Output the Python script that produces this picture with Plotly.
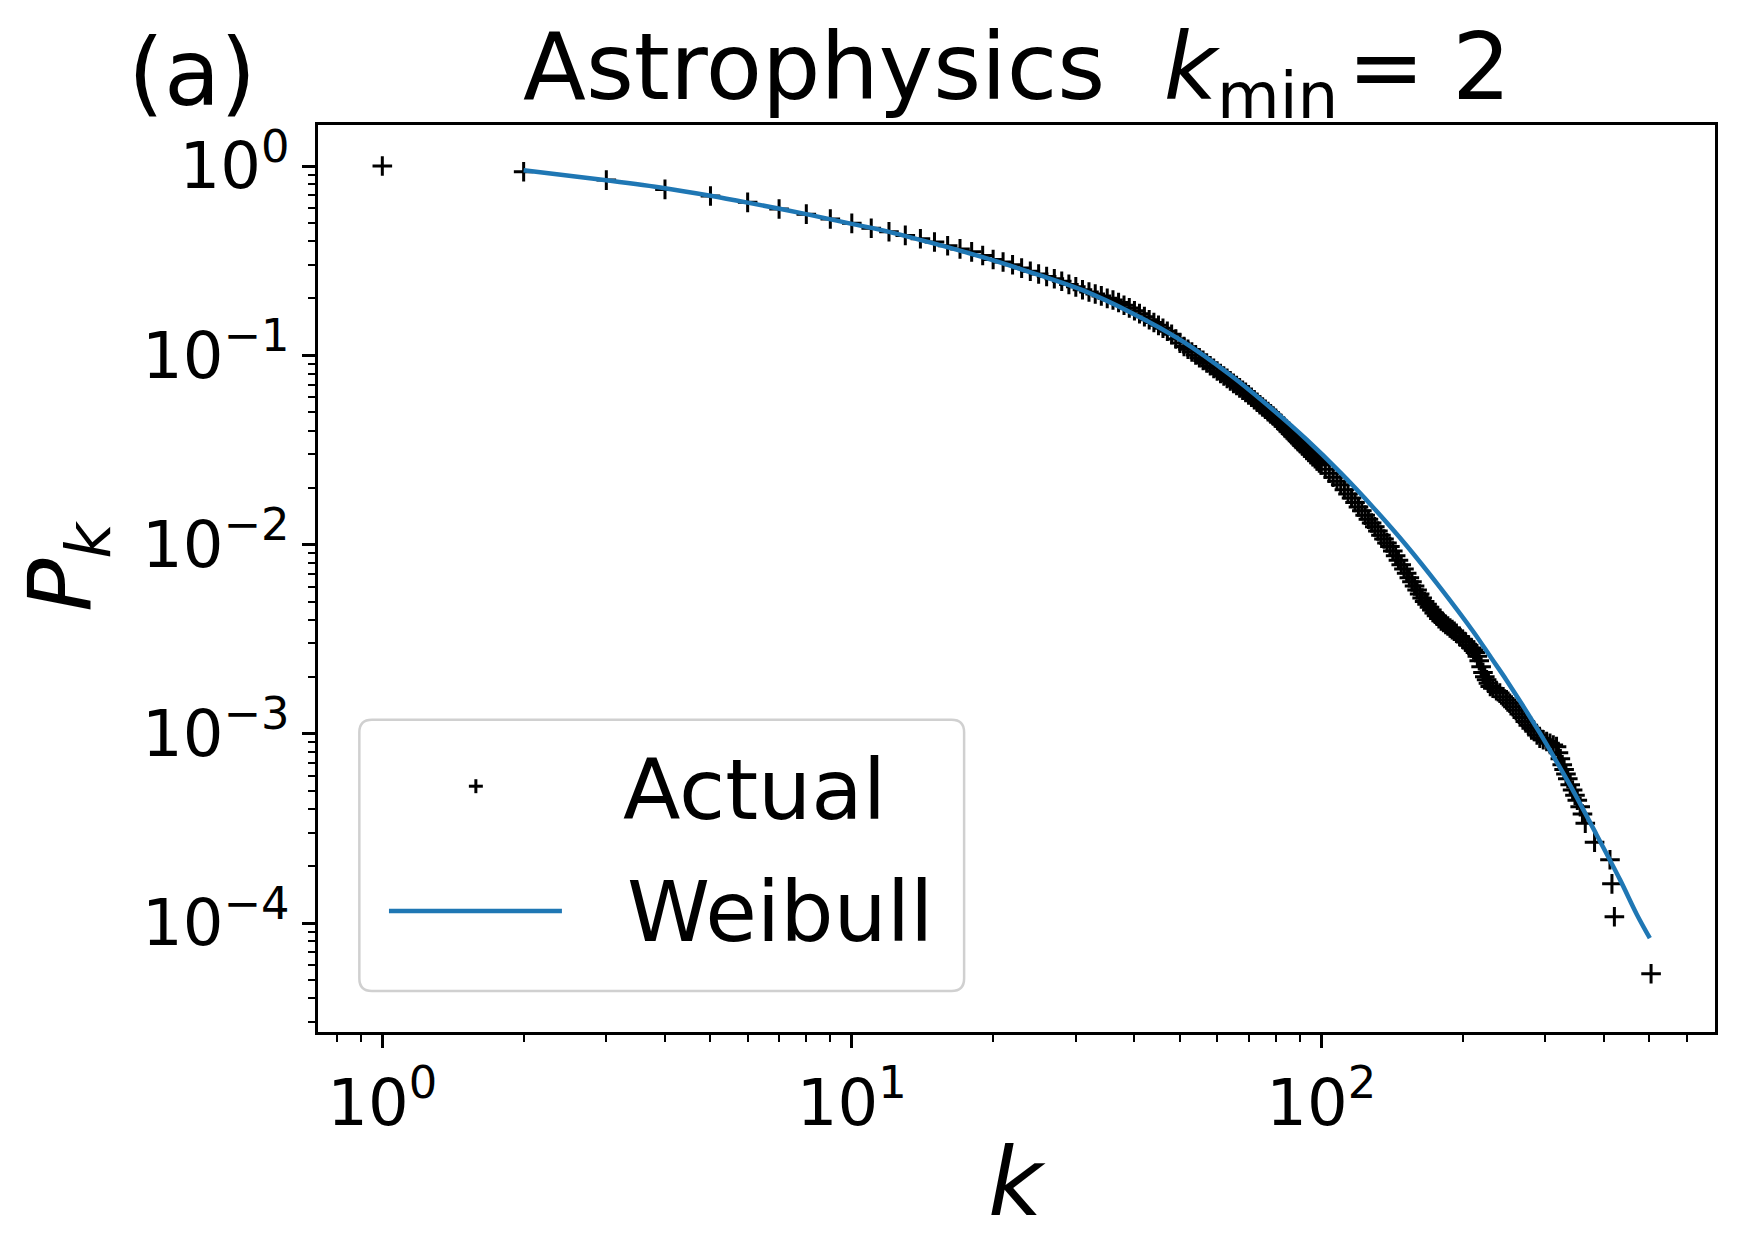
import plotly.graph_objects as go

# Degree distribution (CCDF) of the Astrophysics collaboration network
actual_k = [1, 2, 3, 4, 5, 6, 7, 8, 9, 10,
            11, 12, 13, 14, 15, 16, 17, 18, 19, 20,
            21, 22, 23, 24, 25, 26, 27, 28, 29, 30,
            31, 32, 33, 34, 35, 36, 37, 38, 39, 40,
            41, 42, 43, 44, 45, 46, 47, 48, 49, 50,
            51, 52, 53, 54, 55, 56, 57, 58, 59, 60,
            61, 62, 63, 64, 65, 66, 67, 68, 69, 70,
            71, 72, 73, 74, 75, 76, 77, 78, 79, 80,
            81, 82, 83, 84, 85, 86, 87, 88, 89, 90,
            91, 92, 93, 94, 95, 96, 97, 98, 99, 100,
            102, 104, 106, 108, 110, 112, 114, 116, 118, 120,
            122, 124, 126, 128, 130, 132, 134, 136, 138, 140,
            142, 144, 146, 148, 150, 152, 154, 156, 158, 160,
            162, 164, 166, 168, 170, 172, 174, 176, 178, 180,
            182, 184, 186, 188, 190, 192, 194, 197, 200, 203,
            206, 209, 211, 213, 215, 217, 219, 221, 223, 225,
            227, 229, 232, 236, 240, 244, 248, 252, 256, 260,
            264, 268, 272, 276, 280, 284, 288, 292, 297, 302,
            307, 312, 317, 320, 323, 326, 329, 332, 335, 339,
            343, 347, 351, 356, 360, 365, 382, 412, 416, 421,
            504]
actual_p = [1.0, 0.933, 0.843, 0.753, 0.695, 0.643, 0.593, 0.557, 0.525, 0.498,
            0.469, 0.450, 0.430, 0.413, 0.397, 0.379, 0.365, 0.352, 0.337, 0.321,
            0.311, 0.301, 0.289, 0.278, 0.269, 0.261, 0.254, 0.246, 0.237, 0.230,
            0.222, 0.216, 0.211, 0.206, 0.200, 0.196, 0.190, 0.184, 0.178, 0.172,
            0.166, 0.160, 0.154, 0.149, 0.144, 0.139, 0.134, 0.129, 0.122, 0.116,
            0.1114, 0.1076, 0.1040, 0.1005, 0.0970, 0.0940, 0.0910, 0.0881, 0.0853, 0.0826,
            0.0802, 0.0778, 0.0755, 0.0733, 0.0711, 0.0692, 0.0673, 0.0653, 0.0637, 0.0618,
            0.0600, 0.0582, 0.0565, 0.0548, 0.0533, 0.0519, 0.0504, 0.0490, 0.0478, 0.0465,
            0.0450, 0.0437, 0.0423, 0.0410, 0.0398, 0.0386, 0.0375, 0.0364, 0.0354, 0.0344,
            0.0334, 0.0325, 0.0316, 0.0308, 0.0300, 0.0292, 0.0284, 0.0277, 0.0270, 0.0263,
            0.0250, 0.0238, 0.0227, 0.0216, 0.0207, 0.0195, 0.0185, 0.0176, 0.0167, 0.0158,
            0.0151, 0.0143, 0.0136, 0.0130, 0.0124, 0.0118, 0.0112, 0.0107, 0.0102, 0.00975,
            0.00923, 0.00873, 0.00826, 0.00783, 0.00743, 0.00705, 0.00668, 0.00635, 0.00604, 0.00575,
            0.00548, 0.00522, 0.00500, 0.00483, 0.00466, 0.00451, 0.00435, 0.00421, 0.00406, 0.00395,
            0.00387, 0.00378, 0.00371, 0.00362, 0.00355, 0.00348, 0.00340, 0.00327, 0.00316, 0.00305,
            0.00294, 0.00284, 0.00277, 0.00269, 0.00257, 0.00243, 0.00226, 0.00211, 0.00200, 0.00193,
            0.00185, 0.00178, 0.00174, 0.00169, 0.00164, 0.00157, 0.00151, 0.00145, 0.00139, 0.00133,
            0.00127, 0.00122, 0.00116, 0.00111, 0.00107, 0.00103, 0.000986, 0.000948, 0.000929, 0.000910,
            0.000891, 0.000873, 0.000855, 0.000794, 0.000738, 0.000686, 0.000647, 0.000612, 0.000579, 0.000537,
            0.000504, 0.000473, 0.000445, 0.000412, 0.000377, 0.000337, 0.000267, 0.000216, 0.000161, 0.000108,
            0.0000539]

# Weibull fit curve
weibull_k = [2, 3, 4, 5, 6, 8, 10, 12, 15, 19, 25, 31, 39, 50, 64, 79,
             93, 110, 129, 152, 179, 211, 230, 248, 292, 320, 344, 386, 433, 470, 501]
weibull_p = [0.950, 0.841, 0.764, 0.697, 0.641, 0.557, 0.495, 0.449, 0.389, 0.330,
             0.266, 0.221, 0.170, 0.121, 0.0787, 0.0514, 0.0359, 0.0239, 0.0157, 0.00986,
             0.00594, 0.00345, 0.00252, 0.00192, 0.00101, 0.000684, 0.000499, 0.000292, 0.000169,
             0.000111, 0.0000832]

x_tickvals = [1, 10, 100]
x_ticktext = ['10<sup>0</sup>', '10<sup>1</sup>', '10<sup>2</sup>']
y_tickvals = [1, 0.1, 0.01, 0.001, 0.0001]
y_ticktext = ['10<sup>0</sup>', '10<sup>\u22121</sup>', '10<sup>\u22122</sup>',
              '10<sup>\u22123</sup>', '10<sup>\u22124</sup>']

FONT = 'DejaVu Sans'
BLUE = '#1f77b4'

fig = go.Figure()

# Actual data as '+' markers
fig.add_trace(go.Scatter(
    x=actual_k, y=actual_p,
    mode='markers',
    name='Actual',
    marker=dict(symbol='cross-thin', size=14, line=dict(width=3, color='black')),
))

# Weibull fit on top
fig.add_trace(go.Scatter(
    x=weibull_k, y=weibull_p,
    mode='lines',
    name='Weibull',
    line=dict(color=BLUE, width=4.5, shape='spline', smoothing=1.0),
))

axis_common = dict(
    type='log',
    showgrid=False, zeroline=False,
    showline=True, linecolor='black', linewidth=2.5, mirror=True,
    ticks='outside', ticklen=13, tickwidth=2.5, tickcolor='black',
    tickfont=dict(family=FONT, size=64, color='black'),
    tickmode='array',
    minor=dict(ticks='outside', ticklen=7, tickwidth=2, tickcolor='black',
               dtick='D1', showgrid=False),
)

fig.update_xaxes(axis_common, range=[-0.137, 2.8386],
                 tickvals=x_tickvals, ticktext=x_ticktext)
fig.update_yaxes(axis_common, range=[-4.576, 0.217],
                 tickvals=y_tickvals, ticktext=y_ticktext)

# Legend drawn by hand (matplotlib look: rounded box, long line sample)
lx0, lx1, ly0, ly1 = 0.0296, 0.4625, 0.0453, 0.3442
rx, ry = 0.009, 0.0138
box_path = (f'M {lx0 + rx},{ly0} L {lx1 - rx},{ly0} Q {lx1},{ly0} {lx1},{ly0 + ry} '
            f'L {lx1},{ly1 - ry} Q {lx1},{ly1} {lx1 - rx},{ly1} '
            f'L {lx0 + rx},{ly1} Q {lx0},{ly1} {lx0},{ly1 - ry} '
            f'L {lx0},{ly0 + ry} Q {lx0},{ly0} {lx0 + rx},{ly0} Z')

shapes = [
    dict(type='path', xref='paper', yref='paper', path=box_path,
         line=dict(color='#d0d0d0', width=2.5), fillcolor='rgba(255,255,255,0.8)', layer='above'),
    # '+' sample
    dict(type='line', xref='paper', yref='paper', x0=0.108, x1=0.118, y0=0.271, y1=0.271,
         line=dict(color='black', width=3), layer='above'),
    dict(type='line', xref='paper', yref='paper', x0=0.113, x1=0.113, y0=0.2633, y1=0.2787,
         line=dict(color='black', width=3), layer='above'),
    # line sample
    dict(type='line', xref='paper', yref='paper', x0=0.0508, x1=0.1746, y0=0.1335, y1=0.1335,
         line=dict(color=BLUE, width=4.5), layer='above'),
]

annotations = [
    dict(text='Actual', x=0.217, y=0.2666, xref='paper', yref='paper',
         xanchor='left', yanchor='middle', showarrow=False,
         font=dict(family=FONT, size=84, color='black')),
    dict(text='Weibull', x=0.220, y=0.132, xref='paper', yref='paper',
         xanchor='left', yanchor='middle', showarrow=False,
         font=dict(family=FONT, size=84, color='black')),
    # title
    dict(text='Astrophysics\u00a0\u00a0<i>k</i><sub>min</sub>\u200a=\u2009\u200a2',
         x=0.5, y=1.0566, xref='paper', yref='paper',
         xanchor='center', yanchor='middle', showarrow=False,
         font=dict(family=FONT, size=92, color='black')),
    # panel label
    dict(text='(a)', x=-0.1373, y=1.0566, xref='paper', yref='paper',
         xanchor='left', yanchor='middle', showarrow=False,
         font=dict(family=FONT, size=92, color='black')),
    # axis labels
    dict(text='<i>k</i>', x=0.5, y=-0.166, xref='paper', yref='paper',
         xanchor='center', yanchor='middle', showarrow=False,
         font=dict(family=FONT, size=94, color='black')),
    dict(text='<i>P</i><sub><i>k</i></sub>', x=-0.1797, y=0.514, xref='paper', yref='paper',
         xanchor='center', yanchor='middle', showarrow=False, textangle=-90,
         font=dict(family=FONT, size=88, color='black')),
]

# the page body adds an 8px offset, so the figure is 8px smaller and the margins shifted
fig.update_layout(
    width=1734, height=1252,
    margin=dict(l=310, r=27, t=117, b=228),
    paper_bgcolor='white', plot_bgcolor='white',
    showlegend=False,
    shapes=shapes,
    annotations=annotations,
    font=dict(family=FONT, color='black'),
)

fig.write_html('out.html')
